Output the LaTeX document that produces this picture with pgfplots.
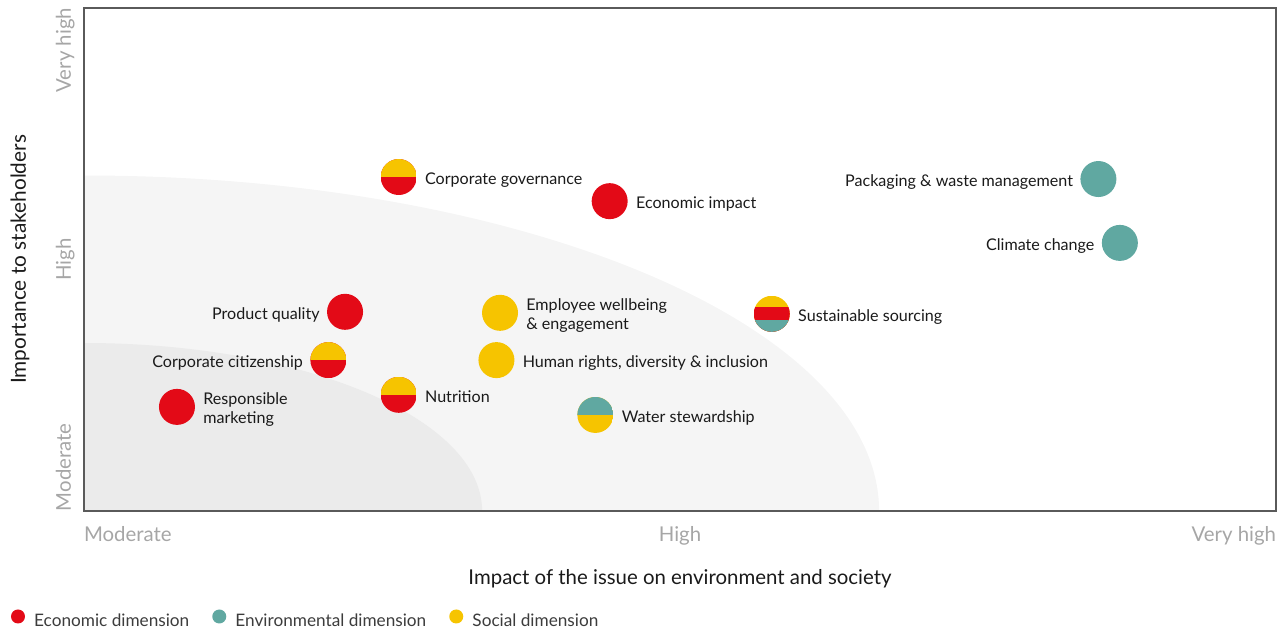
\documentclass[border=0pt]{standalone}
\usepackage{fontspec}
\setmainfont{Lato}
\usepackage{pgfplots}
\pgfplotsset{compat=1.18}
\definecolor{cred}{HTML}{E30A17}
\definecolor{cyel}{HTML}{F6C400}
\definecolor{cteal}{HTML}{60A8A1}
\definecolor{bglight}{HTML}{F5F5F5}
\definecolor{bgdark}{HTML}{EBEBEB}
\definecolor{txt}{HTML}{1A1A1A}
\definecolor{ticktxt}{HTML}{A6A6A6}
\definecolor{axgray}{HTML}{5A5A5A}
\newcommand\labfont{\fontsize{8.05}{9.5}\selectfont}

\pgfdeclareplotmark{dR}{\pgfsetfillcolor{cred}\pgfpathcircle{\pgfpointorigin}{\pgfplotmarksize}\pgfusepath{fill}}
\pgfdeclareplotmark{dT}{\pgfsetfillcolor{cteal}\pgfpathcircle{\pgfpointorigin}{\pgfplotmarksize}\pgfusepath{fill}}
\pgfdeclareplotmark{dY}{\pgfsetfillcolor{cyel}\pgfpathcircle{\pgfpointorigin}{\pgfplotmarksize}\pgfusepath{fill}}
\pgfdeclareplotmark{dYR}{%
  \pgfscope
  \pgfpathcircle{\pgfpointorigin}{\pgfplotmarksize}\pgfusepath{clip}%
  \pgfsetfillcolor{cred}\pgfpathrectanglecorners{\pgfpoint{-\pgfplotmarksize}{-\pgfplotmarksize}}{\pgfpoint{\pgfplotmarksize}{\pgfplotmarksize}}\pgfusepath{fill}%
  \pgfsetfillcolor{cyel}\pgfpathrectanglecorners{\pgfpoint{-\pgfplotmarksize}{0pt}}{\pgfpoint{\pgfplotmarksize}{\pgfplotmarksize}}\pgfusepath{fill}%
  \endpgfscope}
\pgfdeclareplotmark{dTY}{%
  \pgfscope
  \pgfpathcircle{\pgfpointorigin}{\pgfplotmarksize}\pgfusepath{clip}%
  \pgfsetfillcolor{cyel}\pgfpathrectanglecorners{\pgfpoint{-\pgfplotmarksize}{-\pgfplotmarksize}}{\pgfpoint{\pgfplotmarksize}{\pgfplotmarksize}}\pgfusepath{fill}%
  \pgfsetfillcolor{cteal}\pgfpathrectanglecorners{\pgfpoint{-\pgfplotmarksize}{0pt}}{\pgfpoint{\pgfplotmarksize}{\pgfplotmarksize}}\pgfusepath{fill}%
  \endpgfscope}
\pgfdeclareplotmark{dYRT}{%
  \pgfscope
  \pgfpathcircle{\pgfpointorigin}{\pgfplotmarksize}\pgfusepath{clip}%
  \pgfsetfillcolor{cyel}\pgfpathrectanglecorners{\pgfpoint{-\pgfplotmarksize}{-\pgfplotmarksize}}{\pgfpoint{\pgfplotmarksize}{\pgfplotmarksize}}\pgfusepath{fill}%
  \pgfsetfillcolor{cred}\pgfpathrectanglecorners{\pgfpoint{-\pgfplotmarksize}{-\pgfplotmarksize}}{\pgfpoint{\pgfplotmarksize}{0.36\pgfplotmarksize}}\pgfusepath{fill}%
  \pgfsetfillcolor{cteal}\pgfpathrectanglecorners{\pgfpoint{-\pgfplotmarksize}{-\pgfplotmarksize}}{\pgfpoint{\pgfplotmarksize}{-0.34\pgfplotmarksize}}\pgfusepath{fill}%
  \endpgfscope}

\pgfplotsset{
  iss/.style={forget plot, only marks, mark size=9pt},
  lblR/.style={nodes near coords={#1}, every node near coord/.style={anchor=base west, xshift=13pt, yshift=-3.6pt, font=\labfont, text=txt, inner sep=0pt}},
  lblL/.style={nodes near coords={#1}, every node near coord/.style={anchor=base east, xshift=-12.5pt, yshift=-3.6pt, font=\labfont, text=txt, inner sep=0pt}},
  lblR2/.style={nodes near coords={#1}, every node near coord/.style={anchor=west, xshift=13pt, yshift=-1.3pt, font=\labfont, text=txt, inner sep=0pt, align=left}},
}

\begin{document}
\begin{tikzpicture}
\begin{axis}[
  name=ax,
  scale only axis, width=596pt, height=251.5pt,
  xmin=0, xmax=100, ymin=0, ymax=100,
  axis on top,
  axis line style={draw=axgray, line width=0.75pt},
  major tick length=0pt,
  xtick={0,50,100}, ytick={0,50,100},
  xticklabels={\makebox[0pt][l]{Moderate}, High, \makebox[0pt][r]{Very high}},
  yticklabels={\makebox[0pt][l]{Moderate}, High, \makebox[0pt][r]{Very high}},
  xticklabel style={anchor=base, inner sep=0pt, font=\fontsize{10.2}{12}\selectfont, text=ticktxt},
  yticklabel style={rotate=90, anchor=base, inner sep=0pt, font=\fontsize{10.2}{12}\selectfont, text=ticktxt},
  xticklabel shift=15pt, yticklabel shift=6.5pt,
  xlabel={Impact of the issue on environment and society},
  ylabel={Importance to stakeholders},
  every axis x label/.style={at={(axis description cs:0.5,-0.135)}, anchor=center, font=\fontsize{10.2}{12}\selectfont, text=txt},
  every axis y label/.style={at={(axis description cs:-0.0537,0.5)}, rotate=90, anchor=center, font=\fontsize{10.4}{12}\selectfont, text=txt},
  legend columns=3,
  legend image code/.code={\fill[#1] (3.5pt,2.7pt) circle (3.5pt);},
  legend style={draw=none, fill=none, inner sep=0pt, outer sep=0pt,
    at={(axis description cs:0,0)}, anchor=west, xshift=-36.5pt, yshift=-54.3pt,
    font=\fontsize{8.6}{10}\selectfont, text=txt!85!white,
    nodes={inner sep=0pt},
    /tikz/every odd column/.append style={column sep=4.6pt},
    /tikz/every even column/.append style={column sep=11.5pt}},
]
\fill[bglight] (axis cs:0,0) ellipse [x radius=66.7, y radius=66.7];
\fill[bgdark] (axis cs:0,0) ellipse [x radius=33.4, y radius=33.4];

\addlegendimage{fill=cred, draw=none}
\addlegendentry{Economic dimension}
\addlegendimage{fill=cteal, draw=none}
\addlegendentry{Environmental dimension}
\addlegendimage{fill=cyel, draw=none}
\addlegendentry{Social dimension}

\addplot[iss, mark=dYR, lblR={Corporate governance}] coordinates {(26.4,66.4)};
\addplot[iss, mark=dR, lblR={Economic impact}] coordinates {(44.1,61.6)};
\addplot[iss, mark=dT, lblL={Packaging \& waste management}] coordinates {(85.1,66.0)};
\addplot[iss, mark=dT, lblL={Climate change}] coordinates {(86.9,53.3)};
\addplot[iss, mark=dR, lblL={Product quality}] coordinates {(21.9,39.6)};
\addplot[iss, mark=dY, lblR2={Employee wellbeing\\\& engagement}] coordinates {(34.9,39.4)};
\addplot[iss, mark=dYRT, lblR={Sustainable sourcing}] coordinates {(57.7,39.2)};
\addplot[iss, mark=dYR, lblL={Corporate citizenship}] coordinates {(20.5,30.0)};
\addplot[iss, mark=dY, lblR={Human rights, diversity \& inclusion}] coordinates {(34.6,30.0)};
\addplot[iss, mark=dYR, lblR={Nutrition}] coordinates {(26.4,23.1)};
\addplot[iss, mark=dR, lblR2={Responsible\\marketing}] coordinates {(7.8,20.7)};
\addplot[iss, mark=dTY, lblR={Water stewardship}] coordinates {(42.9,19.1)};
\end{axis}
\pgfresetboundingbox
\path ([shift={(-42pt,-58.5pt)}]ax.south west) rectangle ([shift={(0.5pt,4pt)}]ax.north east);
\end{tikzpicture}
\end{document}
